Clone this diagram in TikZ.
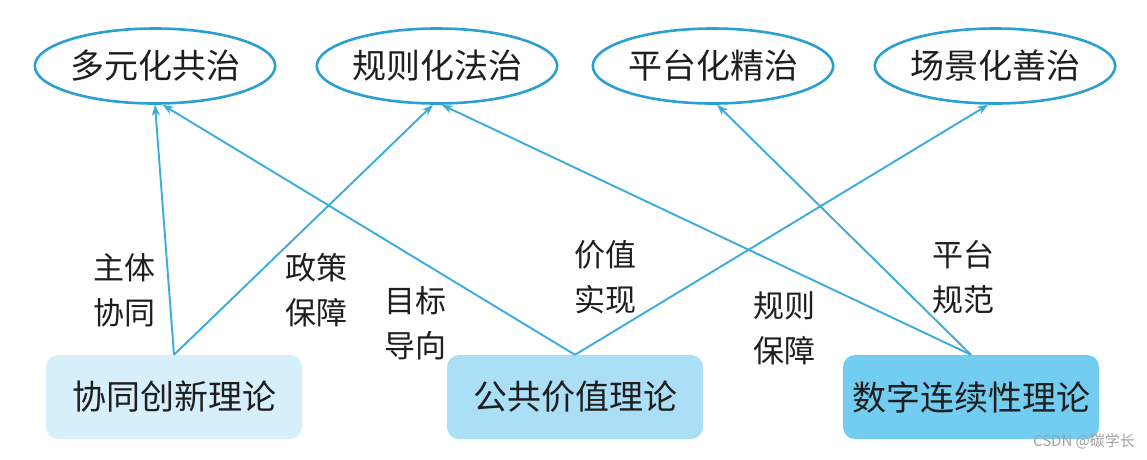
\documentclass[tikz,border=0pt]{standalone}
\usepackage{fontspec}
\setmainfont{Noto Sans CJK SC}
\usetikzlibrary{arrows.meta,shapes.geometric}
\definecolor{ringblue}{HTML}{2A9FD2}
\definecolor{linkblue}{HTML}{3AABDD}
\definecolor{paleA}{HTML}{D6EFFA}
\definecolor{paleB}{HTML}{AADFF6}
\definecolor{paleC}{HTML}{72CDF1}
\definecolor{ink}{HTML}{1E1E1E}

\begin{document}
\begin{tikzpicture}[x=1pt,y=-1pt,>={Stealth[length=11pt,width=8pt]},
  goal/.style={ellipse, draw=ringblue, line width=2.6pt, text=ink,
    minimum width=217pt, minimum height=75pt, inner sep=0pt,
    font=\fontsize{34}{40}\selectfont},
  theory/.style={rounded corners=12pt, text=ink,
    minimum width=256pt, minimum height=84pt, inner sep=0pt,
    font=\fontsize{34}{40}\selectfont},
  link/.style={->, draw=linkblue, line width=1.9pt},
  tag/.style={align=center, text=ink, font=\fontsize{31}{45}\selectfont}]
  \useasboundingbox (0,0) rectangle (1147,459);
  % ---- governance goals ----
  \node[goal] (multi) at (155,66) {多元化共治};
  \node[goal] (rule)  at (437,66) {规则化法治};
  \node[goal] (plat)  at (713,66) {平台化精治};
  \node[goal] (scene) at (995,66) {场景化善治};
  % ---- theories ----
  \node[theory, fill=paleA] (synergy) at (174,397) {协同创新理论};
  \node[theory, fill=paleB] (public)  at (575,397) {公共价值理论};
  \node[theory, fill=paleC] (digital) at (971,397) {数字连续性理论};
  % ---- links ----
  \draw[link] (synergy.north) -- (multi.south);
  \draw[link] (synergy.north) -- (rule.-96);
  \draw[link] (public.north)  -- (multi.-79);
  \draw[link] (public.north)  -- (scene.-100);
  \draw[link] (digital.north) -- (rule.-83);
  \draw[link] (digital.north) -- (plat.-84);
  % ---- link labels ----
  \node[tag] (lbA) at (124,290) {主体\\协同};
  \node[tag] (lbB) at (316,290) {政策\\保障};
  \node[tag] (lbC) at (415,323) {目标\\导向};
  \node[tag] (lbD) at (605,277) {价值\\实现};
  \node[tag] (lbE) at (784,328) {规则\\保障};
  \node[tag] (lbF) at (963,277) {平台\\规范};
  \node[text=gray!75, font=\fontsize{15}{17}\selectfont] (mark) at (1084,441) {CSDN @碳学长};
\end{tikzpicture}
\end{document}
